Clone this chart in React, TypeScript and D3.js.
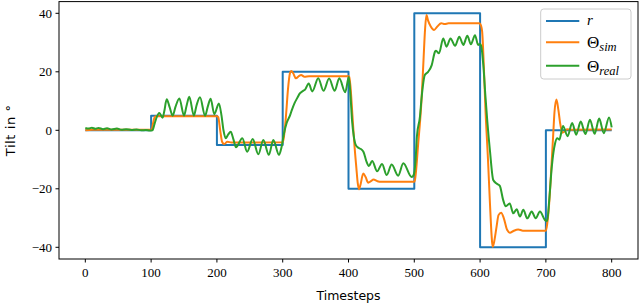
import React from 'react';
import * as d3 from 'd3';

// reference signal r: level held from each step time
const refTimes = [0, 100, 200, 300, 400, 500, 600, 700, 800];
const refLevels = [0, 5, -5, 20, -20, 40, -40, 0, 0];

// simulated tilt (timestep, degrees)
const simPoints: [number, number][] = [
  [0, 0], [10, 0.2], [100, 0.2], [101, 0.3], [103, 2.5], [106, 4.7], [110, 4.8], [200, 4.8],
  [202, 4.5], [205, 0], [208, -4], [211, -4.7], [216, -3.9], [222, -4.2], [300, -4.1],
  [302, -2], [305, 5], [308, 14], [311, 19.5], [313, 20.3], [316, 19.5], [320, 17.8], [325, 18.6],
  [328, 18.9], [333, 18.3], [340, 18.5], [400, 18.5],
  [401, 18.3], [403, 15], [406, 5], [409, -5], [412, -13], [414, -18], [416, -20.2], [418, -18.8],
  [422.5, -14.8], [426, -16], [430, -17.9], [434, -17.4], [438, -16.8], [444, -17.4], [450, -17.6], [500, -17.6],
  [501, -17], [506, -4.4], [511, 10.4], [514, 24], [516.5, 35], [518.5, 39.4], [521, 37.5], [525, 35.5],
  [530, 34.3], [535, 35.5], [541, 36.6], [546, 36.3], [552, 36.6], [598, 36.6],
  [600, 36.4], [603, 34], [606, 20], [608, 8], [612, -10], [615, -25], [617.5, -36], [619, -39.8],
  [621, -38.5], [625, -33], [628, -29], [632, -28.2], [636, -30], [641, -34], [645.5, -35], [650, -34.5],
  [658, -33.9], [665, -34.3], [700, -34.3],
  [702, -32], [705, -25], [708, -14], [711, -2], [713, 6], [716, 10.5], [719, 7], [722, 2], [725, -0.8],
  [728, -0.5], [732, 0.4], [738, 0.2], [800, 0.3],
];

// measured tilt on the real system
const realPoints: [number, number][] = [
  [0, 0.8], [5, 0.6], [10, 0.9], [15, 0.5], [20, 0.8], [27, 0.4], [33, 0.7], [40, 0.3], [48, 0.6],
  [55, 0.2], [62, 0.4], [70, 0.1], [78, 0.3], [85, 0], [92, 0.1], [98, -0.1], [102, 0],
  [105, 2], [108, 4.2], [112.5, 5.9], [117.5, 4.3], [120, 6.5], [123.7, 10.6], [128, 8], [132.8, 5],
  [137, 8], [142.9, 10.9], [150, 5], [154, 8.5], [158, 11.5], [165, 5], [169, 8.5], [174.3, 11.3],
  [182, 5], [186, 8], [190.5, 10.8], [196, 5.5], [203, 9.2], [207, 5], [210, 0], [213.3, -2.7],
  [217, -1.5], [221, -0.5], [225, -3], [229, -5.8], [238.6, -2.7], [246, -7.3], [254.4, -3],
  [263, -8.2], [270.5, -3.3], [279, -8.4], [285.7, -3.3], [294.4, -8.4], [298, -6], [302, -1],
  [306, 2.5], [311, 5], [314, 7], [318, 9.3], [322, 11], [326, 12.6], [331, 13.5], [334, 13.9],
  [339.5, 16], [345, 13.3], [354, 17.8], [362, 13.5], [370.5, 17.7], [379, 13.5], [386, 17.8],
  [395, 13], [400.5, 18.2], [403, 12], [405.5, 3], [408, -2], [411, -5], [415, -6], [420, -6.6],
  [423, -7.5], [427, -10.5], [431, -12.2], [436, -10.5], [443.5, -14], [451, -11.5], [458, -15.3],
  [465.6, -11.7], [475.5, -15.5], [483.3, -11.3], [496, -16], [499.5, -15], [502, -10], [504, -2],
  [508.6, 4.7], [511, 10.9], [516, 18.9], [521, 20], [526.5, 22.3], [531.5, 26.9], [533, 27.2],
  [537.5, 26.3], [544, 31.4], [549, 28.6], [555, 31.4], [562, 28.9], [568.4, 32], [574.5, 29.2],
  [580.6, 32.3], [586, 29.4], [592.3, 32.5], [597, 29.2], [600, 29.5], [602, 28.5], [605, 22],
  [608, 12], [611, 3], [615, -7], [620, -17], [625, -18.2], [630, -19], [635, -23.8], [639, -26],
  [645, -25], [650.5, -28.4], [655.6, -27], [660.6, -29.5], [665.7, -27.2], [671.7, -30.1],
  [678.4, -27.8], [684.5, -30.1], [691, -27.8], [698.6, -30.7], [702, -31], [705, -24],
  [709, -12.4], [714, -4.4], [717.3, -2.7], [720.5, -3.2], [726, 1.5], [733, -2], [740, 2.5],
  [746, -1.5], [753, 3], [760, -1.3], [767, 3.6], [774, -1.2], [781, 4], [788, -1], [796, 4.4],
  [800, 1],
];

const xTicks = [0, 100, 200, 300, 400, 500, 600, 700, 800];
const yTicks = [-40, -20, 0, 20, 40];

const W = 640;
const H = 306;
const serif = '"Liberation Serif", "DejaVu Serif", serif';
const sans = '"DejaVu Sans", sans-serif';

export default function App() {
  const x = d3.scaleLinear().domain([-40, 840]).range([59, 638]);
  const y = d3.scaleLinear().domain([-44, 44]).range([259, 1.6]);
  const [left, right] = x.range();
  const [bottom, top] = y.range();

  const refLine = d3.line<number>()
    .x((_, i) => x(refTimes[i]))
    .y((d) => y(d))
    .curve(d3.curveStepAfter);
  const smooth = d3.line<[number, number]>()
    .x((d) => x(d[0]))
    .y((d) => y(d[1]))
    .curve(d3.curveMonotoneX);

  const legend = [
    { color: '#1f77b4', sub: '', main: 'r', italic: true },
    { color: '#ff7f0e', sub: 'sim', main: 'Θ', italic: false },
    { color: '#2ca02c', sub: 'real', main: 'Θ', italic: false },
  ];
  const legendRows = [21, 42.3, 65.7];

  return (
    <svg width={W} height={H} style={{ position: 'absolute', left: 0, top: 0, background: '#fff' }}>
      <rect x={0} y={0} width={W} height={H} fill="#fff" />
      <g fill="none" strokeWidth={2} strokeLinejoin="round">
        <path d={refLine(refLevels) || ''} stroke="#1f77b4" />
        <path d={smooth(simPoints) || ''} stroke="#ff7f0e" />
        <path d={smooth(realPoints) || ''} stroke="#2ca02c" />
      </g>

      {/* frame */}
      <rect x={left} y={top} width={right - left} height={bottom - top} fill="none" stroke="#000" strokeWidth={1} />

      {xTicks.map((t) => (
        <g key={'x' + t}>
          <line x1={x(t)} x2={x(t)} y1={bottom} y2={bottom + 3.5} stroke="#000" />
          <text x={x(t)} y={bottom + 18} textAnchor="middle" fontFamily={serif} fontSize={13}>{t}</text>
        </g>
      ))}
      {yTicks.map((t) => (
        <g key={'y' + t}>
          <line x1={left - 3.5} x2={left} y1={y(t)} y2={y(t)} stroke="#000" />
          <text x={left - 7} y={y(t) + 4.5} textAnchor="end" fontFamily={serif} fontSize={13}>
            {t < 0 ? '\u2212' + Math.abs(t) : t}
          </text>
        </g>
      ))}

      <text x={(left + right) / 2} y={300} textAnchor="middle" fontFamily={sans} fontSize={12.5}>Timesteps</text>
      <text transform={`translate(15,${(top + bottom) / 2}) rotate(-90)`} textAnchor="middle" fontFamily={sans} fontSize={13} letterSpacing={0.6}>
        Tilt in °
      </text>

      {/* legend */}
      <rect x={540.7} y={9} width={90.3} height={70} rx={3} fill="#fff" fillOpacity={0.8} stroke="#ccc" />
      {legend.map((l, i) => (
        <g key={l.color}>
          <line x1={546} x2={579.3} y1={legendRows[i]} y2={legendRows[i]} stroke={l.color} strokeWidth={2} />
          <text x={587} y={legendRows[i] + (l.sub ? 6 : 4)} fontFamily={serif} fontSize={l.sub ? 17 : 15} fontStyle={l.italic ? 'italic' : 'normal'}>
            {l.main}
            {l.sub && <tspan fontSize={12.5} fontStyle="italic" dy={3}>{l.sub}</tspan>}
          </text>
        </g>
      ))}
    </svg>
  );
}
